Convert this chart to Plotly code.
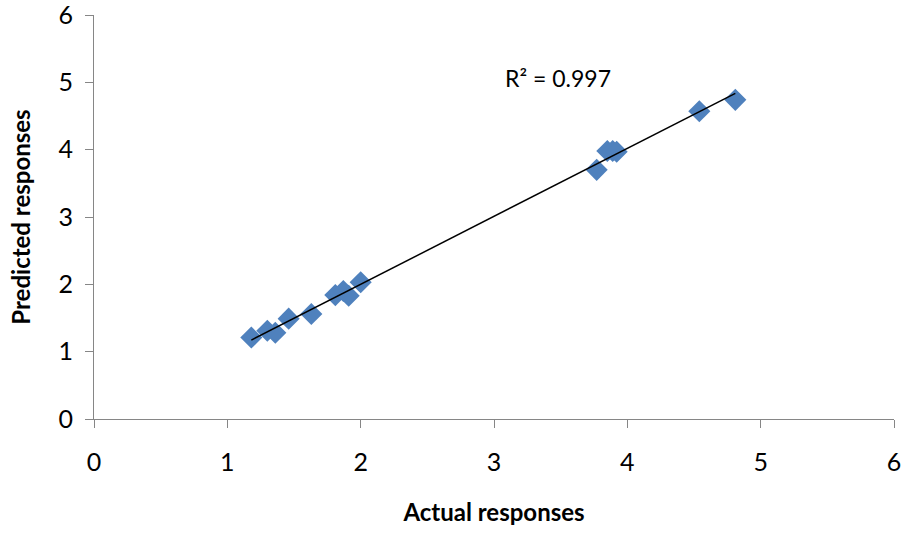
import numpy as np
import plotly.graph_objects as go

actual = [1.18, 1.30, 1.36, 1.46, 1.63, 1.81, 1.87, 1.91, 2.00, 3.77, 3.85, 3.89, 3.92, 4.54, 4.81]
predicted = [1.21, 1.31, 1.28, 1.49, 1.56, 1.84, 1.90, 1.83, 2.03, 3.70, 3.98, 3.98, 3.97, 4.57, 4.74]
x_ticks = [0, 1, 2, 3, 4, 5, 6]
y_ticks = [0, 1, 2, 3, 4, 5, 6]
r2_label = "R² = 0.997"
x_title = "Actual responses"
y_title = "Predicted responses"

slope, intercept = np.polyfit(actual, predicted, 1)
fit_x = [min(actual), max(actual)]
fit_y = [slope * v + intercept for v in fit_x]

font_family = "Lato, 'Open Sans', sans-serif"
axis_color = "#868686"

fig = go.Figure()
fig.add_trace(go.Scatter(
    x=actual, y=predicted, mode="markers",
    marker=dict(symbol="diamond", size=17, color="#4F81BD", line=dict(width=0)),
    showlegend=False,
))
fig.add_trace(go.Scatter(
    x=fit_x, y=fit_y, mode="lines",
    line=dict(color="black", width=1.5),
    showlegend=False,
))
fig.add_annotation(x=3.48, y=5.06, text=r2_label, showarrow=False,
                   font=dict(family=font_family, size=23, color="black"))

common = dict(showgrid=False, zeroline=False, showline=True, linecolor=axis_color,
              linewidth=1, ticks="outside", ticklen=8, tickcolor=axis_color,
              automargin=False, ticklabeloverflow="allow",
              tickfont=dict(family=font_family, size=25, color="black"))
fig.update_xaxes(range=[0, 6], tickvals=x_ticks, ticklabelstandoff=13, **common,
                 title=dict(text=f"<b>{x_title}</b>", standoff=29,
                            font=dict(family=font_family, size=24, color="black")))
fig.update_yaxes(range=[0, 6], tickvals=y_ticks, ticklabelstandoff=7, **common,
                 title=dict(text=f"<b>{y_title}</b>", standoff=21,
                            font=dict(family=font_family, size=24, color="black")))
fig.update_layout(
    width=904, height=534,
    margin=dict(l=94, r=10, t=15, b=115),
    plot_bgcolor="white", paper_bgcolor="white",
)
fig.write_html("out.html", config={"displayModeBar": False},
               post_script="document.body.style.margin='0';")
